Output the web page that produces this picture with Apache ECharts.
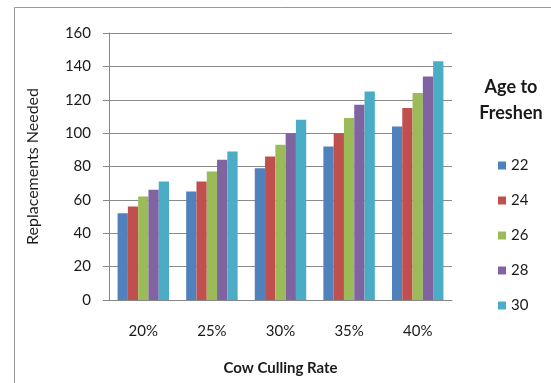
<!DOCTYPE html>
<html><head><meta charset="utf-8">
<script src="https://cdn.jsdelivr.net/npm/echarts@6/dist/echarts.min.js"></script>
<style>html,body{margin:0;padding:0;background:#fff}#c{width:551px;height:383px}</style>
</head><body><div id="c"></div>
<script>
const categories = ['20%', '25%', '30%', '35%', '40%'];
const seriesNames = ['22', '24', '26', '28', '30'];
const age22 = [52, 65, 79, 92, 104];
const age24 = [56, 71, 86, 100, 115];
const age26 = [62, 77, 93, 109, 124];
const age28 = [66, 84, 100, 117, 134];
const age30 = [71, 89, 108, 125, 143];
const yTicks = [0, 20, 40, 60, 80, 100, 120, 140, 160];
const colors = ['#4F81BD', '#C0504D', '#9BBB59', '#8064A2', '#4BACC6'];
const values = [age22, age24, age26, age28, age30];
const FONT = 'Lato, "Open Sans", sans-serif';
const TXT = '#1a1a1a';

const chart = echarts.init(document.getElementById('c'), null, {renderer: 'canvas'});
chart.setOption({
  animation: false,
  backgroundColor: '#fff',
  color: colors,
  textStyle: {fontFamily: FONT},
  title: {
    text: 'Age to\nFreshen',
    left: 506, top: 69, textAlign: 'center',
    textStyle: {fontFamily: FONT, fontSize: 18, fontWeight: 'bold', color: TXT, lineHeight: 26}
  },
  legend: {
    orient: 'vertical',
    left: 493, top: 153,
    itemWidth: 8, itemHeight: 8, itemGap: 20,
    icon: 'rect',
    data: seriesNames,
    textStyle: {fontFamily: FONT, fontSize: 15, color: TXT, lineHeight: 14, padding: [0, 0, 0, 0]}
  },
  grid: {left: 109, right: 99, top: 33, bottom: 83},
  xAxis: {
    type: 'category', data: categories,
    name: 'Cow Culling Rate', nameLocation: 'middle', nameGap: 61,
    nameTextStyle: {fontFamily: FONT, fontSize: 15, fontWeight: 'bold', color: TXT},
    axisLine: {lineStyle: {color: '#888', width: 1}},
    axisTick: {show: false},
    axisLabel: {margin: 24, fontSize: 15, color: TXT, fontFamily: FONT}
  },
  yAxis: {
    type: 'value', min: yTicks[0], max: yTicks[yTicks.length - 1], interval: 20,
    name: 'Replacements Needed', nameLocation: 'middle', nameGap: 68,
    nameTextStyle: {fontFamily: FONT, fontSize: 16, color: TXT},
    axisLine: {show: true, lineStyle: {color: '#888', width: 1}},
    axisTick: {show: true, inside: false, length: 6, lineStyle: {color: '#888'}},
    axisLabel: {margin: 18, fontSize: 15, color: TXT, fontFamily: FONT},
    splitLine: {lineStyle: {color: '#8a8a8a', width: 1}}
  },
  graphic: [
    {type: 'line', shape: {x1: 14.5, y1: 7.5, x2: 551, y2: 7.5}, style: {stroke: '#999', lineWidth: 1}, silent: true},
    {type: 'line', shape: {x1: 14.5, y1: 7.5, x2: 14.5, y2: 383}, style: {stroke: '#999', lineWidth: 1}, silent: true}
  ],
  series: seriesNames.map((n, i) => ({
    name: n, type: 'bar', data: values[i],
    barGap: '0%', barCategoryGap: '25%',
    itemStyle: {color: colors[i]}
  }))
});
</script></body></html>
